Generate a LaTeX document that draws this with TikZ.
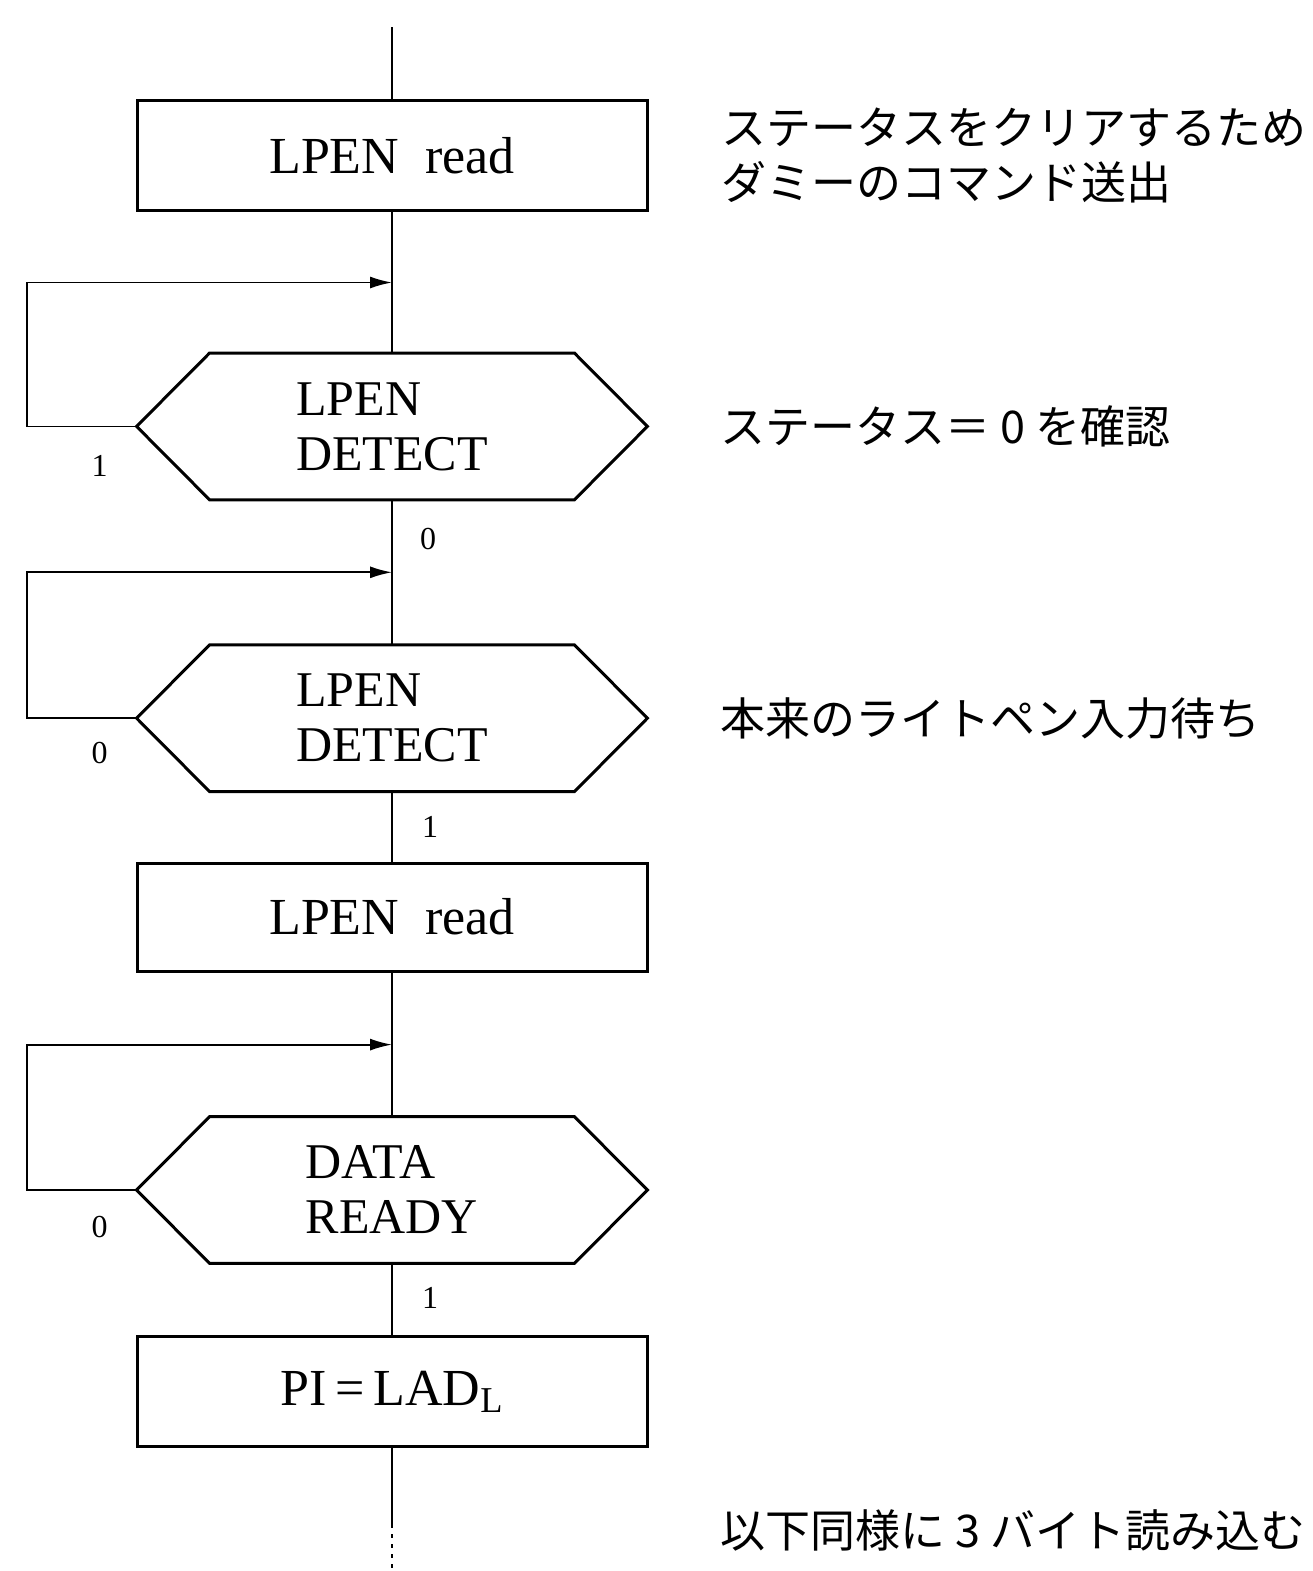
\documentclass[tikz,border=0pt]{standalone}
\usepackage{fontspec}
\setmainfont{Liberation Serif}
\newfontfamily\jpfont{Noto Sans CJK JP}
\usetikzlibrary{arrows.meta, positioning, calc}

\begin{document}
\begin{tikzpicture}[
  x=0.5pt, y=-0.5pt,
  process/.style={draw, line width=1.5pt, minimum width=255pt, minimum height=55pt,
    inner sep=0pt, font=\fontsize{26}{30}\selectfont},
  decision/.style={minimum width=255pt, minimum height=73pt, inner sep=0pt, align=left,
    font=\fontsize{25}{27.5}\selectfont,
    append after command={\pgfextra{\draw[line width=1.5pt, line join=miter]
      ([xshift=36.5pt]\tikzlastnode.north west) -- ([xshift=-36.5pt]\tikzlastnode.north east)
      -- (\tikzlastnode.east) -- ([xshift=-36.5pt]\tikzlastnode.south east)
      -- ([xshift=36.5pt]\tikzlastnode.south west) -- (\tikzlastnode.west) -- cycle;}}},
  flow/.style={line width=0.9pt},
  arrow/.style={flow, -{Latex[length=11pt, width=6pt]}},
  branch/.style={font=\fontsize{16}{18}\selectfont, inner sep=0pt},
  note/.style={font=\jpfont\fontsize{22.5}{27.5}\selectfont, align=left, anchor=west, inner sep=0pt}
]
\useasboundingbox (0,0) rectangle (1313,1571);

% main column
\node[process] (read1) at (392,155.5) {LPEN\enspace read};
\node[decision, below=70.5pt of read1] (detect1) {LPEN\\DETECT};
\node[decision, below=72.5pt of detect1] (detect2) {LPEN\\DETECT};
\node[process, minimum height=54pt, below=35pt of detect2] (read2) {LPEN\enspace read};
\node[decision, below=72pt of read2] (ready) {DATA\\READY};
\node[process, below=36pt of ready] (store) {PI\,=\,LAD\textsubscript{L}};

\coordinate (start) at ([yshift=36pt]read1.north);
\coordinate (j1) at ($(read1.south)!0.5!(detect1.north)$);
\coordinate (j2) at ($(detect1.south)!0.5!(detect2.north)$);
\coordinate (j3) at ($(read2.south)!0.5!(ready.north)$);
\coordinate (dots) at ([yshift=-38pt]store.south);
\coordinate (stop) at ([yshift=-64pt]store.south);

\draw[flow] (start) -- (read1);
\draw[flow] (read1) -- (detect1);
\draw[flow] (detect1) -- (detect2);
\draw[flow] (detect2) -- (read2);
\draw[flow] (read2) -- (ready);
\draw[flow] (ready) -- (store);
\draw[flow] (store) -- (dots);
\draw[flow, dash pattern=on 2pt off 3pt] (dots) -- (stop);

% wait loops
\draw[arrow] (detect1.west) -- ++(-55pt,0) |- (j1);
\draw[arrow] (detect2.west) -- ++(-55pt,0) |- (j2);
\draw[arrow] (ready.west) -- ++(-55pt,0) |- (j3);

% branch labels
\node[branch] (detect1no) at ([shift={(-18.5pt,-20pt)}]detect1.west) {1};
\node[branch] (detect1yes) at ([shift={(18pt,-19.5pt)}]detect1.south) {0};
\node[branch] (detect2no) at ([shift={(-18.5pt,-17.5pt)}]detect2.west) {0};
\node[branch] (detect2yes) at ([shift={(19pt,-17.5pt)}]detect2.south) {1};
\node[branch] (readyno) at ([shift={(-18.5pt,-18.5pt)}]ready.west) {0};
\node[branch] (readyyes) at ([shift={(19pt,-17.5pt)}]ready.south) {1};

% comments
\node[note, right=36.5pt of read1] (note1) {ステータスをクリアするため\\ダミーのコマンド送出};
\node[note, right=36.5pt of detect1] (note2) {ステータス＝\kern5pt0\kern5ptを確認};
\node[note, right=36.5pt of detect2] (note3) {本来のライトペン入力待ち};
\node[note] (note4) at (720,1530) {以下同様に\kern5pt3\kern5ptバイト読み込む};

\end{tikzpicture}
\end{document}
